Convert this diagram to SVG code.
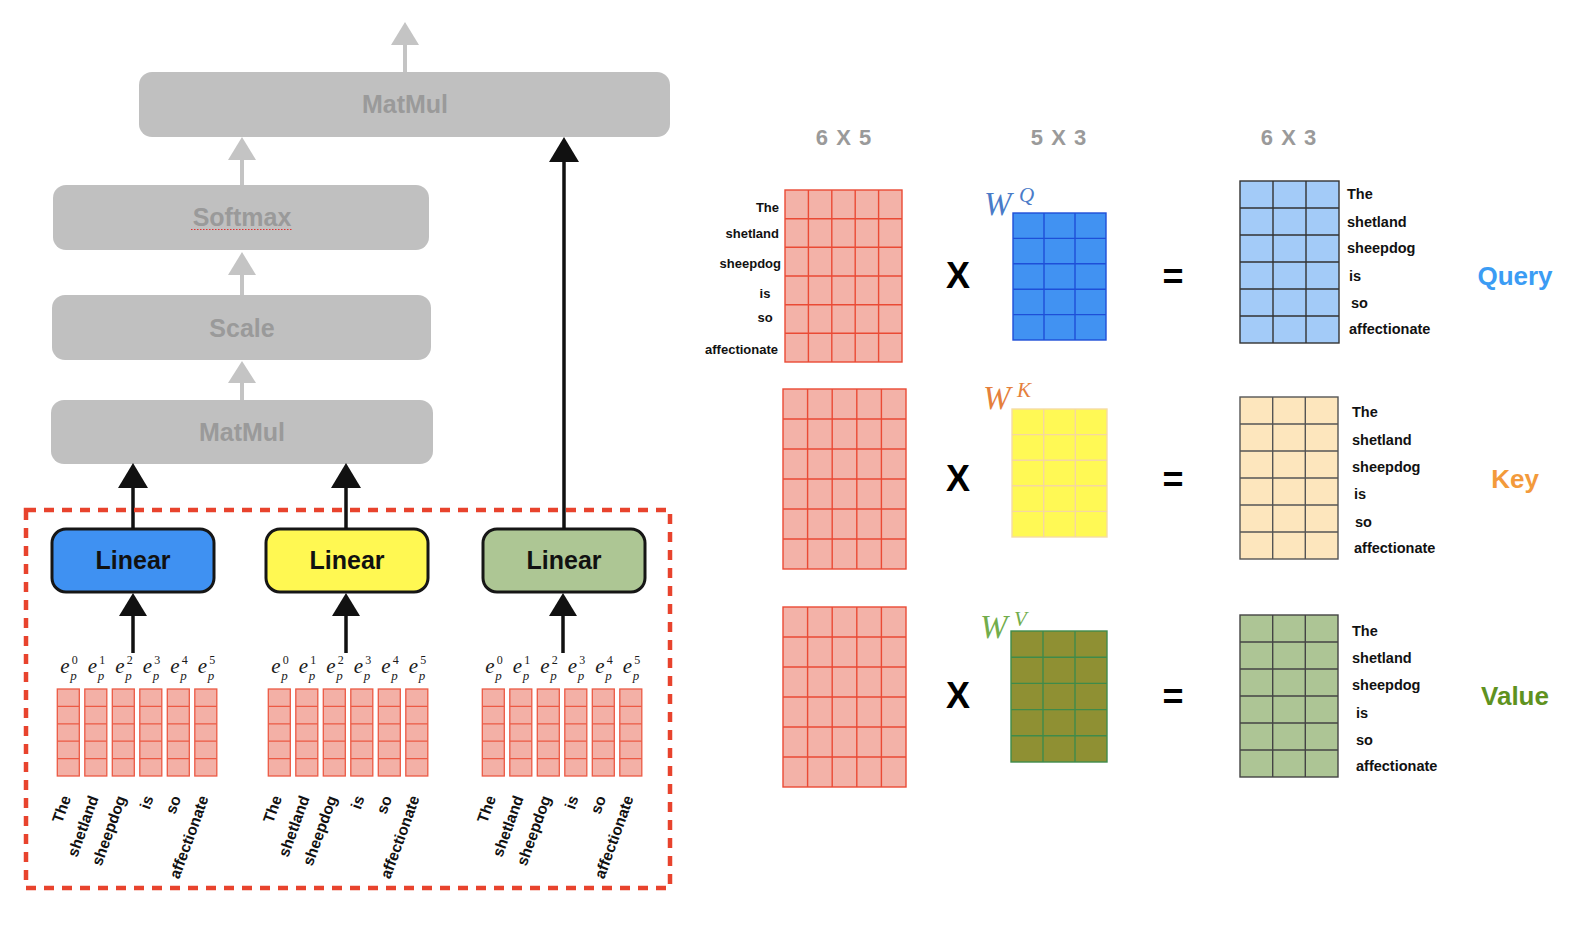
<svg xmlns="http://www.w3.org/2000/svg" width="1584" height="930" viewBox="0 0 1584 930">
<style>
.gbox{fill:#c0c0c0}
.gtxt{font-family:"Liberation Sans",Arial,sans-serif;font-weight:bold;font-size:25px;fill:#9a9a9a;text-anchor:middle}
.garr{stroke:#c4c4c4;stroke-width:4;fill:none}
.ghead{fill:#c4c4c4}
.barr{stroke:#111;stroke-width:3.5;fill:none}
.bhead{fill:#111}
.lin{stroke:#161616;stroke-width:3}
.ltxt{font-family:"Liberation Sans",Arial,sans-serif;font-weight:bold;font-size:25px;fill:#111;text-anchor:middle}
.vec{fill:#f3b0a6;stroke:#ec5a44;stroke-width:1.3}
.ep{font-family:"Liberation Serif","Times New Roman",serif;font-style:italic;fill:#1a1a1a;font-size:21px}
.sup{font-family:"Liberation Serif","Times New Roman",serif;font-size:12px;fill:#1a1a1a}
.sub{font-family:"Liberation Serif","Times New Roman",serif;font-style:italic;font-size:13px;fill:#1a1a1a}
.rw{font-family:"Liberation Sans",Arial,sans-serif;font-weight:bold;font-size:15.5px;fill:#111;text-anchor:end}
.wl{font-family:"Liberation Sans",Arial,sans-serif;font-weight:bold;font-size:13px;fill:#111}
.wr{font-family:"Liberation Sans",Arial,sans-serif;font-weight:bold;font-size:14.5px;fill:#111}
.dim{font-family:"Liberation Sans",Arial,sans-serif;font-weight:bold;font-size:22px;fill:#9a9a9a;text-anchor:middle;letter-spacing:1px}
.op{font-family:"Liberation Sans",Arial,sans-serif;font-weight:bold;font-size:36px;fill:#000;text-anchor:middle}
.W{font-family:"Liberation Serif","Times New Roman",serif;font-style:italic;font-size:33px}
.Ws{font-family:"Liberation Serif","Times New Roman",serif;font-style:italic;font-size:21px}
.big{font-family:"Liberation Sans",Arial,sans-serif;font-weight:bold;font-size:26px;text-anchor:middle}
.red{fill:#f3b2a8;stroke:#ea4a35;stroke-width:1.4}
</style>
<defs>
<g id="vec" class="vec"><rect x="0" y="0" width="22" height="87"/><path d="M0 17.4H22M0 34.8H22M0 52.2H22M0 69.6H22"/></g>
</defs>

<!-- grey upper stack -->
<g id="matmul-top"><rect class="gbox" x="139" y="72" width="531" height="65" rx="13"/><text class="gtxt" x="405" y="113">MatMul</text></g>
<g id="softmax"><rect class="gbox" x="53" y="185" width="376" height="65" rx="13"/><text class="gtxt" x="242" y="226">Softmax</text><line x1="191" y1="229.5" x2="293" y2="229.5" stroke="#e03030" stroke-width="1.2" stroke-dasharray="1.5 1.5"/></g>
<g id="scale"><rect class="gbox" x="52" y="295" width="379" height="65" rx="13"/><text class="gtxt" x="242" y="337">Scale</text></g>
<g id="matmul-bottom"><rect class="gbox" x="51" y="400" width="382" height="64" rx="13"/><text class="gtxt" x="242" y="441">MatMul</text></g>

<!-- linear boxes -->
<g id="linear-q"><rect class="lin" x="52" y="529" width="162" height="63" rx="14" fill="#3f91f2"/><text class="ltxt" x="133" y="569">Linear</text></g>
<g id="linear-k"><rect class="lin" x="266" y="529" width="162" height="63" rx="14" fill="#fff852"/><text class="ltxt" x="347" y="569">Linear</text></g>
<g id="linear-v"><rect class="lin" x="483" y="529" width="162" height="63" rx="14" fill="#adc694"/><text class="ltxt" x="564" y="569">Linear</text></g>

<!-- connectors -->
<g id="connectors">
<line class="garr" x1="405" y1="72" x2="405" y2="44"/><polygon class="ghead" points="405,22 391,45 419,45"/>
<line class="garr" x1="242" y1="185" x2="242" y2="158"/><polygon class="ghead" points="242,137 228,160 256,160"/>
<line class="garr" x1="242" y1="295" x2="242" y2="273"/><polygon class="ghead" points="242,252 228,275 256,275"/>
<line class="garr" x1="242" y1="400" x2="242" y2="381"/><polygon class="ghead" points="242,361 228,383 256,383"/>
<line class="barr" x1="133" y1="529" x2="133" y2="486"/><polygon class="bhead" points="133,463 118,488 148,488"/>
<line class="barr" x1="346" y1="529" x2="346" y2="486"/><polygon class="bhead" points="346,463 331,488 361,488"/>
<line class="barr" x1="564" y1="529" x2="564" y2="160"/><polygon class="bhead" points="564,137 549,162 579,162"/>
<line class="barr" x1="133" y1="653" x2="133" y2="614"/><polygon class="bhead" points="133,593 119,616 147,616"/>
<line class="barr" x1="346" y1="653" x2="346" y2="614"/><polygon class="bhead" points="346,593 332,616 360,616"/>
<line class="barr" x1="563" y1="653" x2="563" y2="614"/><polygon class="bhead" points="563,593 549,616 577,616"/>
</g>

<!-- dashed frame -->
<rect id="frame" x="26" y="510" width="644" height="378" fill="none" stroke="#e8432d" stroke-width="4.5" stroke-dasharray="10 8"/>

<!-- embedding vectors group 1 -->
<g id="vectors-1">
<use href="#vec" x="57.3" y="689"/><use href="#vec" x="84.8" y="689"/><use href="#vec" x="112.3" y="689"/><use href="#vec" x="139.8" y="689"/><use href="#vec" x="167.3" y="689"/><use href="#vec" x="194.8" y="689"/>
<text class="ep" x="60.3" y="673">e</text><text class="sup" x="71.8" y="664">0</text><text class="sub" x="70.3" y="680">p</text>
<text class="ep" x="87.8" y="673">e</text><text class="sup" x="99.3" y="664">1</text><text class="sub" x="97.8" y="680">p</text>
<text class="ep" x="115.3" y="673">e</text><text class="sup" x="126.8" y="664">2</text><text class="sub" x="125.3" y="680">p</text>
<text class="ep" x="142.8" y="673">e</text><text class="sup" x="154.3" y="664">3</text><text class="sub" x="152.8" y="680">p</text>
<text class="ep" x="170.3" y="673">e</text><text class="sup" x="181.8" y="664">4</text><text class="sub" x="180.3" y="680">p</text>
<text class="ep" x="197.8" y="673">e</text><text class="sup" x="209.3" y="664">5</text><text class="sub" x="207.8" y="680">p</text>
<text class="rw" transform="translate(71.3 798) rotate(-70)">The</text>
<text class="rw" transform="translate(98.8 798) rotate(-70)">shetland</text>
<text class="rw" transform="translate(126.3 798) rotate(-70)">sheepdog</text>
<text class="rw" transform="translate(153.8 798) rotate(-70)">is</text>
<text class="rw" transform="translate(181.3 798) rotate(-70)">so</text>
<text class="rw" transform="translate(208.8 798) rotate(-70)">affectionate</text>
</g>

<!-- embedding vectors group 2 -->
<g id="vectors-2">
<use href="#vec" x="268.3" y="689"/><use href="#vec" x="295.8" y="689"/><use href="#vec" x="323.3" y="689"/><use href="#vec" x="350.8" y="689"/><use href="#vec" x="378.3" y="689"/><use href="#vec" x="405.8" y="689"/>
<text class="ep" x="271.3" y="673">e</text><text class="sup" x="282.8" y="664">0</text><text class="sub" x="281.3" y="680">p</text>
<text class="ep" x="298.8" y="673">e</text><text class="sup" x="310.3" y="664">1</text><text class="sub" x="308.8" y="680">p</text>
<text class="ep" x="326.3" y="673">e</text><text class="sup" x="337.8" y="664">2</text><text class="sub" x="336.3" y="680">p</text>
<text class="ep" x="353.8" y="673">e</text><text class="sup" x="365.3" y="664">3</text><text class="sub" x="363.8" y="680">p</text>
<text class="ep" x="381.3" y="673">e</text><text class="sup" x="392.8" y="664">4</text><text class="sub" x="391.3" y="680">p</text>
<text class="ep" x="408.8" y="673">e</text><text class="sup" x="420.3" y="664">5</text><text class="sub" x="418.8" y="680">p</text>
<text class="rw" transform="translate(282.3 798) rotate(-70)">The</text>
<text class="rw" transform="translate(309.8 798) rotate(-70)">shetland</text>
<text class="rw" transform="translate(337.3 798) rotate(-70)">sheepdog</text>
<text class="rw" transform="translate(364.8 798) rotate(-70)">is</text>
<text class="rw" transform="translate(392.3 798) rotate(-70)">so</text>
<text class="rw" transform="translate(419.8 798) rotate(-70)">affectionate</text>
</g>

<!-- embedding vectors group 3 -->
<g id="vectors-3">
<use href="#vec" x="482.3" y="689"/><use href="#vec" x="509.8" y="689"/><use href="#vec" x="537.3" y="689"/><use href="#vec" x="564.8" y="689"/><use href="#vec" x="592.3" y="689"/><use href="#vec" x="619.8" y="689"/>
<text class="ep" x="485.3" y="673">e</text><text class="sup" x="496.8" y="664">0</text><text class="sub" x="495.3" y="680">p</text>
<text class="ep" x="512.8" y="673">e</text><text class="sup" x="524.3" y="664">1</text><text class="sub" x="522.8" y="680">p</text>
<text class="ep" x="540.3" y="673">e</text><text class="sup" x="551.8" y="664">2</text><text class="sub" x="550.3" y="680">p</text>
<text class="ep" x="567.8" y="673">e</text><text class="sup" x="579.3" y="664">3</text><text class="sub" x="577.8" y="680">p</text>
<text class="ep" x="595.3" y="673">e</text><text class="sup" x="606.8" y="664">4</text><text class="sub" x="605.3" y="680">p</text>
<text class="ep" x="622.8" y="673">e</text><text class="sup" x="634.3" y="664">5</text><text class="sub" x="632.8" y="680">p</text>
<text class="rw" transform="translate(496.3 798) rotate(-70)">The</text>
<text class="rw" transform="translate(523.8 798) rotate(-70)">shetland</text>
<text class="rw" transform="translate(551.3 798) rotate(-70)">sheepdog</text>
<text class="rw" transform="translate(578.8 798) rotate(-70)">is</text>
<text class="rw" transform="translate(606.3 798) rotate(-70)">so</text>
<text class="rw" transform="translate(633.8 798) rotate(-70)">affectionate</text>
</g>

<!-- dimension labels -->
<g id="dims">
<text class="dim" x="844" y="145">6 X 5</text>
<text class="dim" x="1059" y="145">5 X 3</text>
<text class="dim" x="1289" y="145">6 X 3</text>
</g>

<!-- input matrices -->
<g id="input-q">
<rect class="red" x="785" y="190" width="117" height="172"/>
<path class="red" fill="none" d="M808.4 190V362M831.8 190V362M855.2 190V362M878.6 190V362M785 218.7H902M785 247.3H902M785 276H902M785 304.7H902M785 333.3H902"/>
<text class="wl" text-anchor="end" x="779" y="212">The</text>
<text class="wl" text-anchor="end" x="779" y="238">shetland</text>
<text class="wl" text-anchor="end" x="781" y="268">sheepdog</text>
<text class="wl" text-anchor="middle" x="765" y="298">is</text>
<text class="wl" text-anchor="middle" x="765" y="322">so</text>
<text class="wl" text-anchor="end" x="778" y="354">affectionate</text>
</g>
<g id="input-k">
<rect class="red" x="783" y="389" width="123" height="180"/>
<path class="red" fill="none" d="M807.6 389V569M832.2 389V569M856.8 389V569M881.4 389V569M783 419H906M783 449H906M783 479H906M783 509H906M783 539H906"/>
</g>
<g id="input-v">
<rect class="red" x="783" y="607" width="123" height="180"/>
<path class="red" fill="none" d="M807.6 607V787M832.2 607V787M856.8 607V787M881.4 607V787M783 637H906M783 667H906M783 697H906M783 727H906M783 757H906"/>
</g>

<!-- operators -->
<g id="ops">
<text class="op" x="958" y="288">X</text>
<text class="op" x="958" y="491">X</text>
<text class="op" x="958" y="708">X</text>
<text class="op" x="1173" y="289">=</text>
<text class="op" x="1173" y="492">=</text>
<text class="op" x="1173" y="709">=</text>
</g>

<!-- weight matrices -->
<g id="wq">
<text class="W" x="984" y="215" fill="#4a7bc8">W</text><text class="Ws" x="1019" y="202" fill="#4a7bc8">Q</text>
<rect x="1013" y="213" width="93" height="127" fill="#4192f2" stroke="#1e4fd8" stroke-width="1.4"/>
<path fill="none" stroke="#1e4fd8" stroke-width="1.4" d="M1044 213V340M1075 213V340M1013 238.4H1106M1013 263.8H1106M1013 289.2H1106M1013 314.6H1106"/>
</g>
<g id="wk">
<text class="W" x="983" y="409" fill="#e5803c">W</text><text class="Ws" x="1017" y="397" fill="#e5803c">K</text>
<rect x="1012" y="409" width="95" height="128" fill="#fff955" stroke="#f6dca6" stroke-width="1.4"/>
<path fill="none" stroke="#f6d7a0" stroke-width="1.4" d="M1043.7 409V537M1075.3 409V537M1012 434.6H1107M1012 460.2H1107M1012 485.8H1107M1012 511.4H1107"/>
</g>
<g id="wv">
<text class="W" x="980" y="638" fill="#72ad4c">W</text><text class="Ws" x="1014" y="626" fill="#72ad4c">V</text>
<rect x="1011" y="631" width="96" height="131" fill="#8f9033" stroke="#3f8b4a" stroke-width="1.4"/>
<path fill="none" stroke="#3f8b4a" stroke-width="1.4" d="M1043 631V762M1075 631V762M1011 657.2H1107M1011 683.4H1107M1011 709.6H1107M1011 735.8H1107"/>
</g>

<!-- result matrices -->
<g id="query">
<rect x="1240" y="181" width="99" height="162" fill="#a3cbf8" stroke="#333" stroke-width="1.4"/>
<path fill="none" stroke="#333" stroke-width="1.4" d="M1273 181V343M1306 181V343M1240 208H1339M1240 235H1339M1240 262H1339M1240 289H1339M1240 316H1339"/>
<text class="wr" x="1347" y="199">The</text>
<text class="wr" x="1347" y="227">shetland</text>
<text class="wr" x="1347" y="253">sheepdog</text>
<text class="wr" x="1349" y="281">is</text>
<text class="wr" x="1351" y="308">so</text>
<text class="wr" x="1349" y="334">affectionate</text>
<text class="big" x="1515" y="285" fill="#3b9cf4">Query</text>
</g>
<g id="key">
<rect x="1240" y="397" width="98" height="162" fill="#fde6bd" stroke="#555" stroke-width="1.4"/>
<path fill="none" stroke="#555" stroke-width="1.4" d="M1272.7 397V559M1305.3 397V559M1240 424H1338M1240 451H1338M1240 478H1338M1240 505H1338M1240 532H1338"/>
<text class="wr" x="1352" y="417">The</text>
<text class="wr" x="1352" y="445">shetland</text>
<text class="wr" x="1352" y="472">sheepdog</text>
<text class="wr" x="1354" y="499">is</text>
<text class="wr" x="1355" y="527">so</text>
<text class="wr" x="1354" y="553">affectionate</text>
<text class="big" x="1515" y="488" fill="#f39a3b">Key</text>
</g>
<g id="value">
<rect x="1240" y="615" width="98" height="162" fill="#adc595" stroke="#444" stroke-width="1.4"/>
<path fill="none" stroke="#444" stroke-width="1.4" d="M1272.7 615V777M1305.3 615V777M1240 642H1338M1240 669H1338M1240 696H1338M1240 723H1338M1240 750H1338"/>
<text class="wr" x="1352" y="636">The</text>
<text class="wr" x="1352" y="663">shetland</text>
<text class="wr" x="1352" y="690">sheepdog</text>
<text class="wr" x="1356" y="718">is</text>
<text class="wr" x="1356" y="745">so</text>
<text class="wr" x="1356" y="771">affectionate</text>
<text class="big" x="1515" y="705" fill="#5f921f">Value</text>
</g>
</svg>
